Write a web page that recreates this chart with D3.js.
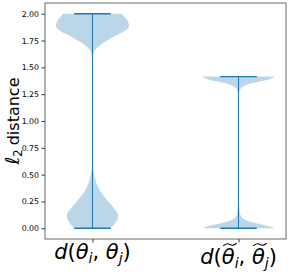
<!DOCTYPE html>
<html>
<head>
<meta charset="utf-8">
<script src="https://cdn.jsdelivr.net/npm/d3@7"></script>
<style>
  body { margin: 0; background: #fff; }
  svg { display: block; font-family: "DejaVu Sans", sans-serif; }
</style>
</head>
<body>
<svg id="chart"></svg>
<script>
// violin positions and their min / max
let positions = [1, 2];
let mins = [0, 0];
let maxs = [2.0, 1.414];

// density profiles: value along y, relative half width (1 = widest)
let v1Values  = [0.00, 0.03, 0.06, 0.09, 0.12, 0.15, 0.18, 0.21, 0.24, 0.28, 0.32, 0.36, 0.40, 0.44, 0.48, 0.52, 0.56, 0.62, 0.70, 0.85, 1.00, 1.20, 1.40, 1.50, 1.56, 1.60, 1.64, 1.67, 1.70, 1.73, 1.76, 1.79, 1.82, 1.85, 1.88, 1.91, 1.94, 1.97, 2.00];
let v1Density = [0.50, 0.58, 0.65, 0.69, 0.70, 0.67, 0.60, 0.53, 0.45, 0.36, 0.27, 0.19, 0.13, 0.09, 0.06, 0.035, 0.02, 0.01, 0.005, 0.003, 0.002, 0.002, 0.003, 0.006, 0.01, 0.015, 0.04, 0.09, 0.18, 0.30, 0.45, 0.60, 0.78, 0.93, 1.00, 0.99, 0.95, 0.88, 0.80];

let v2Values  = [0.000, 0.015, 0.030, 0.045, 0.060, 0.075, 0.090, 0.110, 0.130, 0.160, 0.200, 0.300, 0.500, 0.700, 0.900, 1.100, 1.200, 1.260, 1.290, 1.310, 1.325, 1.340, 1.355, 1.370, 1.385, 1.400, 1.414];
let v2Density = [0.99, 0.88, 0.70, 0.50, 0.33, 0.20, 0.12, 0.07, 0.045, 0.03, 0.02, 0.01, 0.005, 0.004, 0.004, 0.006, 0.01, 0.02, 0.04, 0.08, 0.14, 0.25, 0.40, 0.60, 0.80, 0.93, 1.00];

let yTicks = [0, 0.25, 0.5, 0.75, 1.0, 1.25, 1.5, 1.75, 2.0];
let hasTilde = [false, true];
let subs = ['i', 'j'];

let width = 291;
let height = 274;
let mLeft = 45, mRight = 286, mTop = 3, mBottom = 239;
let violinWidth = 0.5;
let color = '#1f77b4';

let svg = d3.select('#chart').attr('width', width).attr('height', height);

let xScale = d3.scaleLinear().domain([0.675, 2.325]).range([mLeft, mRight]);
let yScale = d3.scaleLinear().domain([-0.1, 2.1]).range([mBottom, mTop]);

let profiles = [
  v1Values.map((v, i) => ({ value: v, density: v1Density[i] })),
  v2Values.map((v, i) => ({ value: v, density: v2Density[i] }))
];

// violin bodies
profiles.forEach((prof, k) => {
  let pos = positions[k];
  let area = d3.area()
    .curve(d3.curveMonotoneY)
    .y(d => yScale(d.value))
    .x0(d => xScale(pos - violinWidth / 2 * d.density))
    .x1(d => xScale(pos + violinWidth / 2 * d.density));
  svg.append('path')
    .datum(prof)
    .attr('d', area)
    .attr('fill', color)
    .attr('fill-opacity', 0.3)
    .attr('stroke', 'none');
});

// center lines and caps
positions.forEach((pos, k) => {
  svg.append('line')
    .attr('x1', xScale(pos)).attr('x2', xScale(pos))
    .attr('y1', yScale(mins[k])).attr('y2', yScale(maxs[k]))
    .attr('stroke', color)
    .attr('stroke-width', 1);
  [mins[k], maxs[k]].forEach(v => {
    svg.append('line')
      .attr('x1', xScale(pos - violinWidth / 4)).attr('x2', xScale(pos + violinWidth / 4))
      .attr('y1', yScale(v)).attr('y2', yScale(v))
      .attr('stroke', color)
      .attr('stroke-width', 1.3);
  });
});

// y axis
let yAxis = d3.axisLeft(yScale)
  .tickValues(yTicks)
  .tickFormat(d3.format('.2f'))
  .tickSize(3.5)
  .tickPadding(2.5);
let gy = svg.append('g')
  .attr('transform', 'translate(' + mLeft + ',0)')
  .call(yAxis);
gy.select('.domain').remove();
gy.selectAll('line').attr('stroke', '#000').attr('stroke-width', 0.8);
gy.selectAll('text').attr('font-size', 7.8).attr('fill', '#000').attr('font-family', 'DejaVu Sans');

// x axis ticks (labels drawn separately)
let xAxis = d3.axisBottom(xScale)
  .tickValues(positions)
  .tickFormat('')
  .tickSize(3.5);
let gx = svg.append('g')
  .attr('transform', 'translate(0,' + mBottom + ')')
  .call(xAxis);
gx.select('.domain').remove();
gx.selectAll('line').attr('stroke', '#000').attr('stroke-width', 0.8);

// frame
svg.append('rect')
  .attr('x', mLeft).attr('y', mTop)
  .attr('width', mRight - mLeft).attr('height', mBottom - mTop)
  .attr('fill', 'none')
  .attr('stroke', '#444')
  .attr('stroke-width', 0.8);

// y label
let ylab = svg.append('text')
  .attr('transform', 'translate(18.5,' + ((mTop + mBottom) / 2) + ') rotate(-90)')
  .attr('text-anchor', 'middle')
  .attr('font-size', 16)
  .attr('fill', '#000');
ylab.append('tspan').attr('font-style', 'italic').attr('font-size', 19).text('\u2113');
ylab.append('tspan').attr('font-size', 11.5).attr('dy', 3.5).text('2');
ylab.append('tspan').attr('dy', -3.5).attr('dx', 4).text('distance');

// x tick labels
let baselines = [259, 263.5];
positions.forEach((pos, k) => {
  let t = svg.append('text')
    .attr('x', xScale(pos))
    .attr('y', baselines[k])
    .attr('text-anchor', 'middle')
    .attr('font-size', 21)
    .attr('font-style', 'italic')
    .attr('fill', '#000');
  t.append('tspan').text('d');
  t.append('tspan').attr('font-style', 'normal').text('(');
  t.append('tspan').text('\u03b8');
  t.append('tspan').attr('font-size', 14).attr('dy', 4).text(subs[0]);
  t.append('tspan').attr('dy', -4).attr('font-style', 'normal').text(', ');
  t.append('tspan').text('\u03b8');
  t.append('tspan').attr('font-size', 14).attr('dy', 4).text(subs[1]);
  t.append('tspan').attr('dy', -4).attr('font-style', 'normal').text(')');

  // wide tilde over each theta
  if (hasTilde[k]) {
    let node = t.node();
    [2, 6].forEach(ci => {
      let b = node.getExtentOfChar(ci);
      let x0 = b.x + 1.5, x1 = b.x + b.width + 2;
      let yb = baselines[k] - 19;
      let w = x1 - x0;
      let pts = [[x0, yb + 1.2], [x0 + w * 0.33, yb - 1.8], [x0 + w * 0.67, yb + 1.8], [x1, yb - 1.2]];
      svg.append('path')
        .attr('d', d3.line().curve(d3.curveBasis)(pts))
        .attr('fill', 'none')
        .attr('stroke', '#000')
        .attr('stroke-width', 1.1);
    });
  }
});
</script>
</body>
</html>
